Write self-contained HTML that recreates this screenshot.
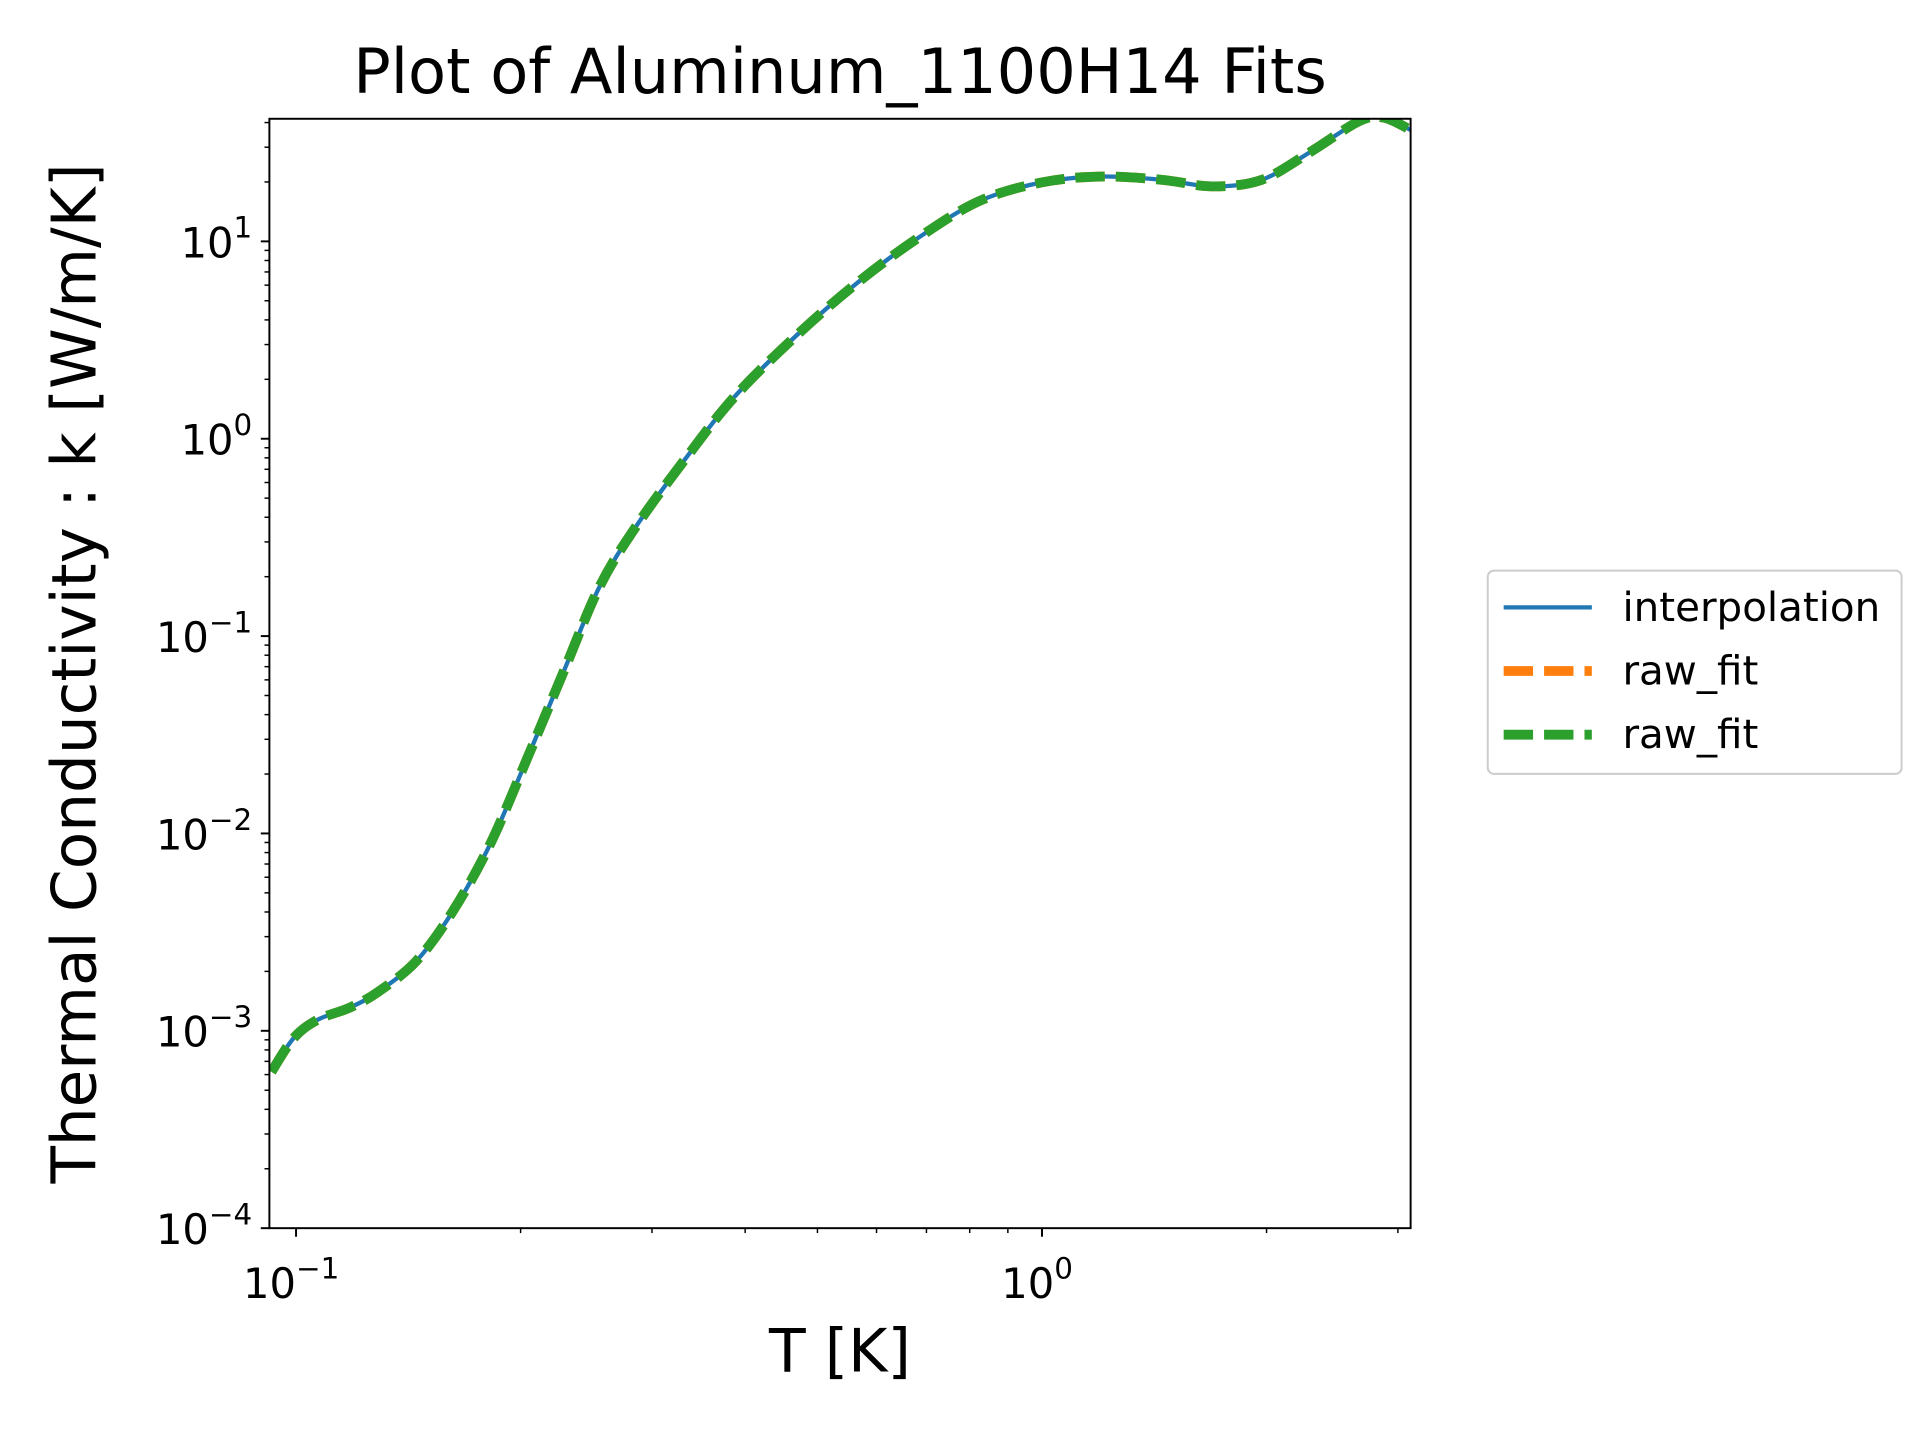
<!DOCTYPE html>
<html><head><meta charset="utf-8"><style>
html,body{margin:0;padding:0;background:#fff;}
svg{display:block;font-family:"DejaVu Sans","Liberation Sans",sans-serif;}
</style></head><body>
<svg id="chart" width="1920" height="1440" viewBox="0 0 1568 1176" xmlns="http://www.w3.org/2000/svg">
<rect x="0" y="0" width="1568" height="1176" fill="#fff"/>
<defs><clipPath id="clip"><rect x="220" y="97" width="932" height="906"/></clipPath></defs>
<text x="686" y="76" font-size="51" text-anchor="middle" textLength="795" lengthAdjust="spacingAndGlyphs">Plot of Aluminum_1100H14 Fits</text>
<text x="686" y="1120" font-size="49" text-anchor="middle">T [K]</text>
<text transform="translate(78,550) rotate(-90)" font-size="50" text-anchor="middle">Thermal Conductivity : k [W/m/K]</text>
<g id="axes"></g>
<g id="series" clip-path="url(#clip)"></g>
<rect x="220" y="97" width="932" height="906" fill="none" stroke="#000" stroke-width="1.6"/>
<g>
<rect x="1215" y="466" width="338" height="166" rx="5" fill="#fff" stroke="#ccc" stroke-width="1.6"/>
<line x1="1228" y1="496" x2="1300" y2="496" stroke="#1f77b4" stroke-width="3.5"/>
<text x="1325" y="507" font-size="33">interpolation</text>
<line x1="1228" y1="548" x2="1300" y2="548" stroke="#ff7f0e" stroke-width="8" stroke-dasharray="24 9"/>
<text x="1325" y="559" font-size="33">raw_fit</text>
<line x1="1228" y1="600" x2="1300" y2="600" stroke="#2ca02c" stroke-width="8" stroke-dasharray="24 9"/>
<text x="1325" y="611" font-size="33">raw_fit</text>
</g>
</svg>
<script>
const temps = [0.0927,0.0993,0.107,0.118,0.129,0.145,0.162,0.182,0.204,0.228,0.255,0.286,0.333,0.387,0.468,0.565,0.682,0.824,1.0,1.2,1.45,1.69,1.97,2.29,2.66,2.87,3.12];
const kValues = [6.2e-4,9.2e-4,1.14e-3,1.31e-3,1.58e-3,2.26e-3,4.0e-3,8.8e-3,0.0239,0.065,0.177,0.362,0.796,1.63,3.32,6.15,10.4,16.0,19.9,21.3,20.5,19.0,20.5,28.4,40.6,42.4,36.7];
const xTickExps = [-1,0];
const yTickExps = [-4,-3,-2,-1,0,1];
const xMin = 0.0921, xMax = 3.12, yMin = 1e-4, yMax = 41.8;
const L=220,R=1152,T=97,B=1003;
const NS='http://www.w3.org/2000/svg';
function xs(v){return L+(Math.log10(v)-Math.log10(xMin))/(Math.log10(xMax)-Math.log10(xMin))*(R-L);}
function ys(v){return B-(Math.log10(v)-Math.log10(yMin))/(Math.log10(yMax)-Math.log10(yMin))*(B-T);}
function mk(tag,attrs,parent){const e=document.createElementNS(NS,tag);for(const k in attrs)e.setAttribute(k,attrs[k]);parent.appendChild(e);return e;}
const axes=document.getElementById('axes');
for(let d=-2;d<=1;d++){for(let m=1;m<10;m++){const v=m*Math.pow(10,d);if(v<xMin||v>xMax)continue;const x=xs(v);const len=m===1?7:4;
 const t=mk('line',{x1:x,y1:B,x2:x,y2:B+len,stroke:'#000','stroke-width':m===1?1.6:1.2},axes);
 
 }}
xTickExps.forEach(e=>{const x=xs(Math.pow(10,e));const t=mk('text',{x:x-4,y:1060,'font-size':34,'text-anchor':'middle'},axes);
 
 
 t.innerHTML='10<tspan dy="-16" font-size="24">'+(e<0?'\u2212'+(-e):e)+'</tspan>';});
for(let d=-5;d<=2;d++){for(let m=1;m<10;m++){const v=m*Math.pow(10,d);if(v<yMin||v>yMax)continue;const y=ys(v);const len=m===1?7:4;
 const t=mk('line',{x1:L,y1:y,x2:L-len,y2:y,stroke:'#000','stroke-width':m===1?1.6:1.2},axes);
 
 }}
yTickExps.forEach(e=>{const y=ys(Math.pow(10,e));const t=mk('text',{x:206,y:y+13,'font-size':34,'text-anchor':'end'},axes);
 
 
 t.innerHTML='10<tspan dy="-16" font-size="24">'+(e<0?'\u2212'+(-e):e)+'</tspan>';});
const sg=document.getElementById('series');
const pts=temps.map((t,i)=>[xs(t),ys(kValues[i])]);
function smooth(p){let d='M'+p[0][0]+','+p[0][1];for(let i=0;i<p.length-1;i++){const p0=p[i-1]||p[i],p1=p[i],p2=p[i+1],p3=p[i+2]||p2;
 d+=' C'+(p1[0]+(p2[0]-p0[0])/6)+','+(p1[1]+(p2[1]-p0[1])/6)+' '+(p2[0]-(p3[0]-p1[0])/6)+','+(p2[1]-(p3[1]-p1[1])/6)+' '+p2[0]+','+p2[1];}return d;}
const d=smooth(pts);
const s1=mk('path',{d:d,fill:'none',stroke:'#1f77b4','stroke-width':3.5},sg);


const s2=mk('path',{d:d,fill:'none',stroke:'#ff7f0e','stroke-width':8,'stroke-dasharray':'24 9'},sg);


const s3=mk('path',{d:d,fill:'none',stroke:'#2ca02c','stroke-width':8,'stroke-dasharray':'24 9'},sg);


</script>
</body></html>
